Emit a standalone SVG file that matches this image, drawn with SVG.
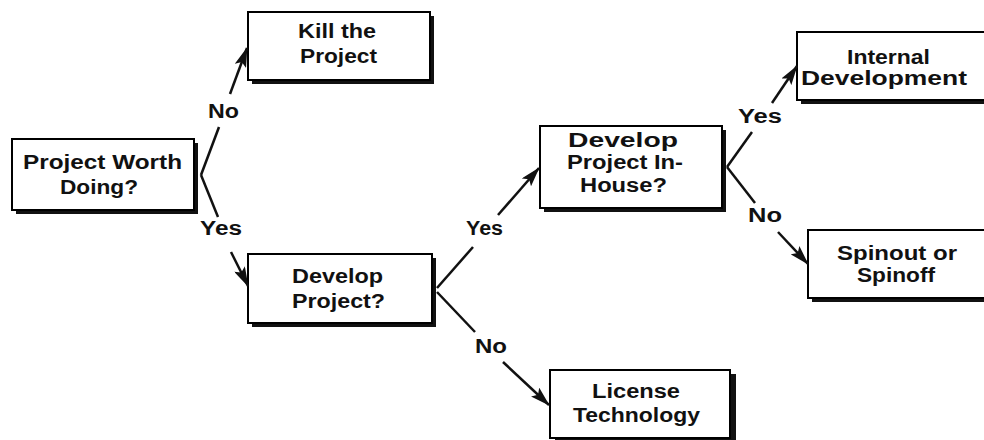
<svg xmlns="http://www.w3.org/2000/svg" width="984" height="440" viewBox="0 0 984 440">
<style>
.bx{fill:#fff;stroke:#000;stroke-width:2}
.sh{fill:#111}
.t{font-family:"Liberation Sans",Arial,sans-serif;font-size:20px;font-weight:bold;fill:#111}
.c{fill:none;stroke:#111;stroke-width:2.5}
</style>
<defs>
<marker id="ah" markerUnits="userSpaceOnUse" markerWidth="22" markerHeight="12" refX="19" refY="6" orient="auto">
<path d="M0,0 L20,6 L0,12 L4,6 Z" fill="#111"/>
</marker>
</defs>
<rect width="984" height="440" fill="#fff"/>
<g id="n1">
<rect class="sh" x="16" y="143" width="182" height="71"/>
<rect class="bx" x="12" y="139" width="182" height="71"/>
<text class="t" x="23" y="169" textLength="159" lengthAdjust="spacingAndGlyphs">Project Worth</text>
<text class="t" x="60" y="194" textLength="78" lengthAdjust="spacingAndGlyphs">Doing?</text>
</g>
<g id="n2">
<rect class="sh" x="252" y="16" width="182" height="68"/>
<rect class="bx" x="248" y="12" width="182" height="68"/>
<text class="t" x="298" y="38" textLength="78" lengthAdjust="spacingAndGlyphs">Kill the</text>
<text class="t" x="300" y="63" textLength="77" lengthAdjust="spacingAndGlyphs">Project</text>
</g>
<g id="n3">
<rect class="sh" x="252" y="258" width="184" height="69"/>
<rect class="bx" x="248" y="254" width="184" height="69"/>
<text class="t" x="292" y="283" textLength="91" lengthAdjust="spacingAndGlyphs">Develop</text>
<text class="t" x="292" y="308" textLength="93" lengthAdjust="spacingAndGlyphs">Project?</text>
</g>
<g id="n4">
<rect class="sh" x="544" y="130" width="182" height="82"/>
<rect class="bx" x="540" y="126" width="182" height="82"/>
<text class="t" x="568" y="147" textLength="110" lengthAdjust="spacingAndGlyphs">Develop</text>
<text class="t" x="567" y="169" textLength="116" lengthAdjust="spacingAndGlyphs">Project In-</text>
<text class="t" x="580" y="192" textLength="87" lengthAdjust="spacingAndGlyphs">House?</text>
</g>
<g id="n5">
<rect class="sh" x="801" y="36" width="200" height="68"/>
<rect class="bx" x="797" y="32" width="200" height="68"/>
<text class="t" x="847" y="64" textLength="83" lengthAdjust="spacingAndGlyphs">Internal</text>
<text class="t" x="801" y="85" textLength="166" lengthAdjust="spacingAndGlyphs">Development</text>
</g>
<g id="n6">
<rect class="sh" x="812" y="234" width="200" height="68"/>
<rect class="bx" x="808" y="230" width="200" height="68"/>
<text class="t" x="837" y="260" textLength="120" lengthAdjust="spacingAndGlyphs">Spinout or</text>
<text class="t" x="857" y="282" textLength="78" lengthAdjust="spacingAndGlyphs">Spinoff</text>
</g>
<g id="n7">
<rect class="sh" x="555" y="374" width="181" height="68"/>
<rect class="bx" x="550" y="370" width="180" height="68"/>
<text class="t" x="592" y="398" textLength="88" lengthAdjust="spacingAndGlyphs">License</text>
<text class="t" x="573" y="422" textLength="127" lengthAdjust="spacingAndGlyphs">Technology</text>
</g>
<g id="connectors">
<path class="c" d="M201,175 L219,127"/>
<path class="c" d="M230,94 L247,48" marker-end="url(#ah)"/>
<text class="t" x="208" y="118" textLength="31" lengthAdjust="spacingAndGlyphs">No</text>
<path class="c" d="M201,175 L218,217"/>
<path class="c" d="M231,252 L248,286" marker-end="url(#ah)"/>
<text class="t" x="200" y="235" textLength="42" lengthAdjust="spacingAndGlyphs">Yes</text>
<path class="c" d="M437,288 L473,247"/>
<path class="c" d="M498,215 L539,168" marker-end="url(#ah)"/>
<text class="t" x="466" y="235" textLength="37" lengthAdjust="spacingAndGlyphs">Yes</text>
<path class="c" d="M437,292 L475,332"/>
<path class="c" d="M503,362 L549,405" marker-end="url(#ah)"/>
<text class="t" x="475" y="353" textLength="32" lengthAdjust="spacingAndGlyphs">No</text>
<path class="c" d="M727,167 L752,132"/>
<path class="c" d="M772,103 L797,66" marker-end="url(#ah)"/>
<text class="t" x="738" y="123" textLength="44" lengthAdjust="spacingAndGlyphs">Yes</text>
<path class="c" d="M727,167 L755,203"/>
<path class="c" d="M778,232 L808,264" marker-end="url(#ah)"/>
<text class="t" x="748" y="222" textLength="34" lengthAdjust="spacingAndGlyphs">No</text>
</g>
</svg>
